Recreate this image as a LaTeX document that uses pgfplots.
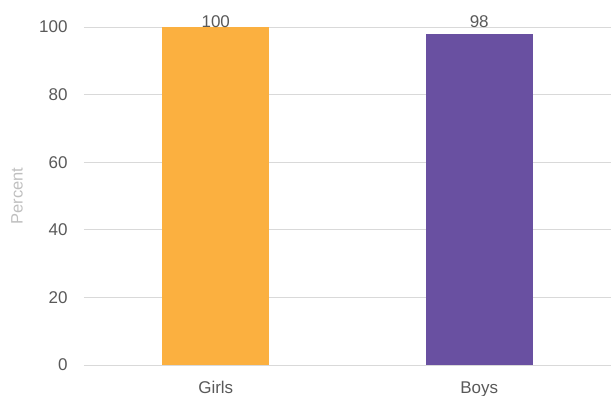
\documentclass[border=0pt]{standalone}
\usepackage{pgfplots}
\pgfplotsset{compat=1.18}
\usepackage{fontspec}
\setmainfont{Liberation Sans}
\definecolor{girlc}{RGB}{251,176,64}
\definecolor{boyc}{RGB}{105,80,161}
\definecolor{txt}{RGB}{89,89,89}
\definecolor{gridc}{RGB}{217,217,217}
\definecolor{lab}{RGB}{191,191,191}
\begin{document}
\begin{tikzpicture}[x=1pt,y=1pt]
\begin{axis}[
  at={(84pt,31pt)}, anchor=south west,
  scale only axis, width=527pt, height=338pt,
  xmin=-0.5, xmax=1.5, ymin=0, ymax=100,
  xtick={0,1}, xticklabels={Girls,Boys},
  ytick={0,20,...,100},
  ymajorgrids, grid style={gridc, line width=0.8pt},
  axis line style={draw=none},
  axis x line*=bottom,
  x axis line style={gridc, line width=0.8pt},
  major tick length=0pt,
  tick label style={font=\fontsize{17}{20}\selectfont, text=txt},
  /pgf/number format/assume math mode=true,
  yticklabel style={xshift=-13pt},
  xticklabel style={yshift=-13pt},
  ylabel={Percent},
  every axis y label/.style={rotate=90, anchor=center,
     font=\fontsize{16.5}{18}\selectfont, text=lab, at={(-67pt,169pt)}},
  ybar, bar width=107pt, bar shift=0pt,
  nodes near coords, every node near coord/.append style={font=\fontsize{17}{20}\selectfont, text=txt},
  clip=false,
]
\addplot[fill=girlc, draw=none, every node near coord/.append style={yshift=-4pt}] coordinates {(0,100)};
\addplot[fill=boyc, draw=none, every node near coord/.append style={yshift=3pt}] coordinates {(1,98)};
\end{axis}
\pgfresetboundingbox
\path (0,0) rectangle (611,396);
\end{tikzpicture}
\end{document}
